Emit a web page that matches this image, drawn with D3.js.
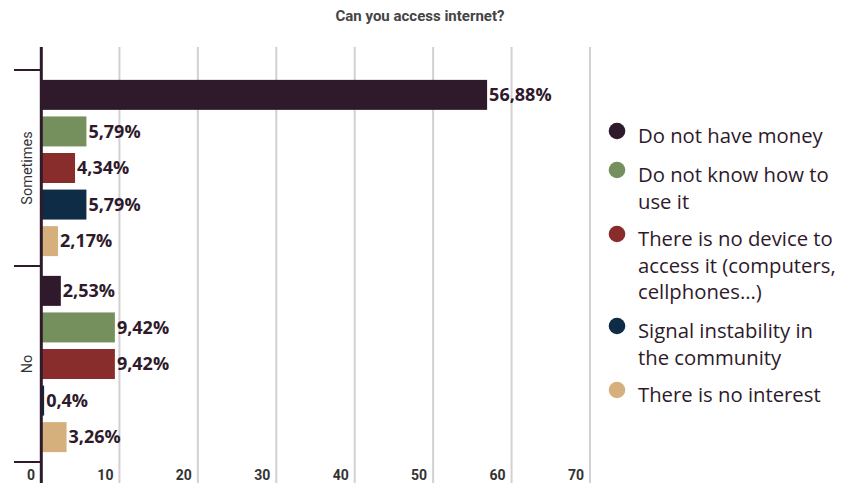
<!DOCTYPE html>
<html>
<head>
<meta charset="utf-8">
<script src="https://cdn.jsdelivr.net/npm/d3@7"></script>
<style>
  html, body { margin: 0; padding: 0; background: #fff; }
  svg { display: block; }
</style>
</head>
<body>
<svg id="chart" width="851" height="483"></svg>
<script>
// Answer groups on the vertical axis
const groups = ["Sometimes", "No"];
// Reasons (one bar per reason inside each group)
const reasons = [
  "Do not have money",
  "Do not know how to use it",
  "There is no device to access it (computers, cellphones...)",
  "Signal instability in the community",
  "There is no interest"
];
// Legend lines, wrapped
const legendLines = [
  ["Do not have money"],
  ["Do not know how to", "use it"],
  ["There is no device to", "access it (computers,", "cellphones...)"],
  ["Signal instability in", "the community"],
  ["There is no interest"]
];
// Percent values per group, in reason order
const sometimesValues = [56.88, 5.79, 4.34, 5.79, 2.17];
const noValues = [2.53, 9.42, 9.42, 0.4, 3.26];
const xTicks = [0, 10, 20, 30, 40, 50, 60, 70];
const colors = ["#2e1a2b", "#758f5d", "#882c2c", "#0e2c45", "#d6b07c"];

const valuesByGroup = { "Sometimes": sometimesValues, "No": noValues };

const svg = d3.select("#chart");
const dark = "#2e1a2b";
const bodyFont = "'Open Sans', 'Noto Sans', sans-serif";

const x = d3.scaleLinear().domain([0, 70]).range([41, 590]);
const y0 = d3.scaleBand().domain(groups).range([70, 462]);
const y1 = d3.scaleBand().domain(reasons).range([0, y0.bandwidth()])
  .paddingInner(0.18).paddingOuter(0.27);
const color = d3.scaleOrdinal().domain(reasons).range(colors);

// Title
svg.append("text")
  .attr("x", 420).attr("y", 21)
  .attr("text-anchor", "middle")
  .attr("font-family", "Roboto, sans-serif")
  .attr("font-weight", 700)
  .attr("font-size", 15)
  .attr("fill", "#444")
  .text("Can you access internet?");

// Vertical gridlines
svg.append("g")
  .selectAll("line")
  .data(xTicks.filter(d => d > 0))
  .join("line")
  .attr("x1", d => x(d)).attr("x2", d => x(d))
  .attr("y1", 47).attr("y2", 483)
  .attr("stroke", "#d3cfd2")
  .attr("stroke-width", 2);

// X tick labels, right-aligned just left of each gridline
svg.append("g")
  .selectAll("text")
  .data(xTicks)
  .join("text")
  .attr("x", d => x(d) - 6)
  .attr("y", 480)
  .attr("text-anchor", "end")
  .attr("font-family", "Roboto, sans-serif")
  .attr("font-weight", 700)
  .attr("font-size", 14)
  .attr("fill", "#333")
  .text(d => d);

// Bars
const gGroups = svg.append("g")
  .selectAll("g")
  .data(groups)
  .join("g")
  .attr("transform", g => `translate(0,${y0(g)})`);

const rows = gGroups.selectAll("g.row")
  .data(g => reasons.map((r, i) => ({ group: g, reason: r, value: valuesByGroup[g][i] })))
  .join("g").attr("class", "row");

rows.append("rect")
  .attr("x", x(0))
  .attr("y", d => y1(d.reason))
  .attr("width", d => x(d.value) - x(0))
  .attr("height", y1.bandwidth())
  .attr("fill", d => color(d.reason));

rows.append("text")
  .attr("x", d => x(d.value) + 2)
  .attr("y", d => y1(d.reason) + y1.bandwidth() / 2)
  .attr("dy", "0.35em")
  .attr("font-family", bodyFont)
  .attr("font-weight", 700)
  .attr("font-size", 18)
  .attr("fill", dark)
  .text(d => String(d.value).replace(".", ",") + "%");

// Y axis line and group ticks
svg.append("line")
  .attr("x1", 41.3).attr("x2", 41.3)
  .attr("y1", 47).attr("y2", 483)
  .attr("stroke", dark).attr("stroke-width", 3);

const groupEdges = [y0.range()[0], ...groups.map(g => y0(g) + y0.bandwidth())];
svg.append("g")
  .selectAll("line")
  .data(groupEdges)
  .join("line")
  .attr("x1", 14).attr("x2", 41)
  .attr("y1", d => d).attr("y2", d => d)
  .attr("stroke", dark).attr("stroke-width", 2);

// Group labels, rotated
svg.append("g")
  .selectAll("text")
  .data(groups)
  .join("text")
  .attr("transform", g => `translate(32,${y0(g) + y0.bandwidth() / 2}) rotate(-90)`)
  .attr("text-anchor", "middle")
  .attr("font-family", "Roboto, sans-serif")
  .attr("font-size", 14.5)
  .attr("fill", "#333")
  .text(g => g);

// Legend
const legendFirstBaselines = [143, 182, 246, 338, 402];
const lineHeight = 26.7;
const legend = svg.append("g")
  .selectAll("g")
  .data(reasons)
  .join("g");

legend.append("circle")
  .attr("cx", 617)
  .attr("cy", (d, i) => legendFirstBaselines[i] - 12)
  .attr("r", 8.3)
  .attr("fill", d => color(d));

legend.append("text")
  .attr("x", 638)
  .attr("y", (d, i) => legendFirstBaselines[i])
  .attr("font-family", bodyFont)
  .attr("font-size", 20.3)
  .attr("fill", dark)
  .selectAll("tspan")
  .data((d, i) => legendLines[i])
  .join("tspan")
  .attr("x", 638)
  .attr("dy", (d, j) => j === 0 ? 0 : lineHeight)
  .text(d => d);
</script>
</body>
</html>
